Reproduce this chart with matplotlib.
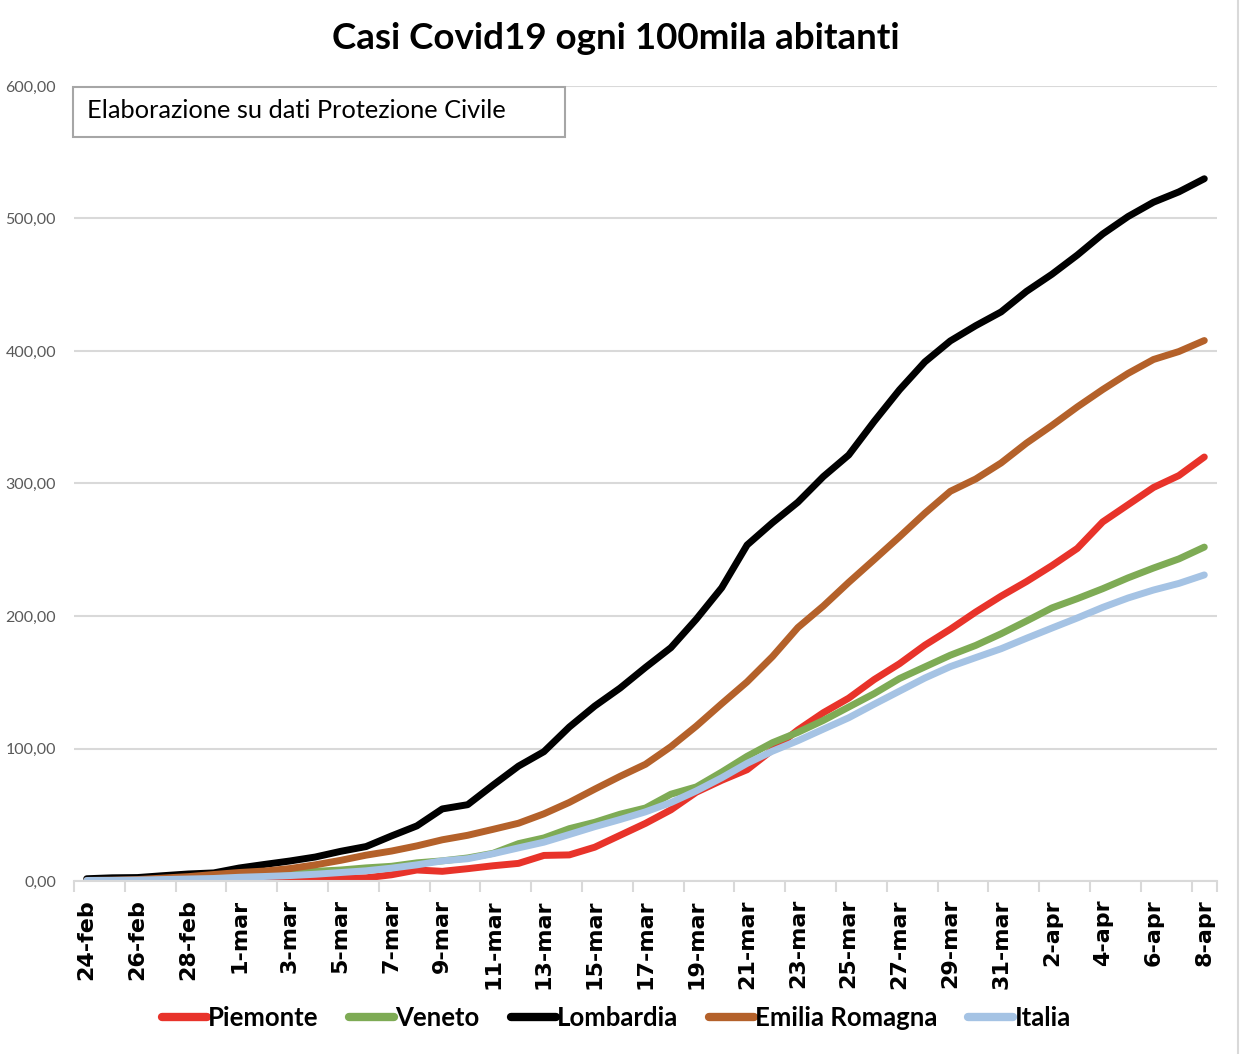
import matplotlib
matplotlib.use('Agg')
import matplotlib.pyplot as plt
from matplotlib.patches import Rectangle
from matplotlib.lines import Line2D

# Casi ogni 100mila abitanti, dal 24-feb all'8-apr 2020
giorni = ['24-feb', '25-feb', '26-feb', '27-feb', '28-feb', '29-feb',
          '1-mar', '2-mar', '3-mar', '4-mar', '5-mar', '6-mar', '7-mar', '8-mar',
          '9-mar', '10-mar', '11-mar', '12-mar', '13-mar', '14-mar', '15-mar',
          '16-mar', '17-mar', '18-mar', '19-mar', '20-mar', '21-mar', '22-mar',
          '23-mar', '24-mar', '25-mar', '26-mar', '27-mar', '28-mar', '29-mar',
          '30-mar', '31-mar', '1-apr', '2-apr', '3-apr', '4-apr', '5-apr',
          '6-apr', '7-apr', '8-apr']

piemonte = [0.0, 0.1, 0.1, 0.1, 0.3, 0.3, 0.3, 0.3, 0.4, 1.0, 1.9, 2.4, 4.7, 8.3,
            7.3, 9.3, 11.5, 13.3, 19.3, 19.7, 25.5, 34.5, 43.5, 53.7, 67.0, 76.0,
            84.0, 99.0, 114.0, 127.0, 138.0, 152.0, 164.0, 178.0, 190.0, 203.0,
            215.0, 226.0, 238.0, 251.0, 271.0, 284.0, 297.0, 306.0, 320.0]

veneto = [0.7, 0.9, 1.4, 2.3, 3.1, 3.9, 5.4, 5.6, 6.3, 7.3, 8.3, 9.9, 11.1, 13.7,
          15.2, 17.4, 20.9, 28.2, 32.5, 39.5, 44.3, 50.4, 55.1, 65.5, 71.0, 82.2,
          94.1, 104.4, 112.2, 121.2, 131.3, 141.4, 152.8, 161.6, 170.4, 177.8,
          186.6, 196.2, 206.1, 213.1, 220.6, 228.8, 236.2, 243.1, 252.0]

lombardia = [1.7, 2.4, 2.6, 4.0, 5.3, 6.1, 9.8, 12.5, 15.1, 18.1, 22.4, 26.0, 34.0,
             41.6, 54.4, 57.6, 72.4, 86.7, 97.6, 116.2, 132.0, 145.6, 161.2, 176.1,
             197.6, 221.3, 253.6, 270.4, 285.9, 305.2, 321.5, 346.8, 370.7, 391.8,
             407.6, 419.1, 429.5, 445.0, 457.9, 472.4, 488.3, 501.5, 512.3, 520.1,
             530.0]

emilia = [0.4, 0.6, 1.1, 2.2, 3.3, 4.9, 6.4, 7.5, 9.4, 12.2, 15.6, 19.5, 22.6, 26.5,
          31.1, 34.5, 39.0, 43.6, 50.7, 59.3, 69.3, 79.0, 88.1, 101.4, 116.9, 133.8,
          150.3, 169.4, 191.3, 207.5, 225.4, 242.5, 259.8, 277.6, 294.1, 303.4,
          315.5, 330.5, 343.8, 357.8, 370.9, 383.1, 393.6, 399.6, 407.9]

italia = [0.4, 0.5, 0.7, 1.1, 1.5, 1.9, 2.8, 3.4, 4.1, 5.1, 6.4, 7.7, 9.7, 12.2,
          15.2, 16.8, 20.6, 25.0, 29.3, 35.1, 41.0, 46.4, 52.2, 59.2, 68.0, 77.9,
          88.8, 98.0, 105.9, 114.6, 123.2, 133.4, 143.3, 153.2, 161.8, 168.6,
          175.3, 183.2, 190.9, 198.5, 206.5, 213.6, 219.6, 224.6, 231.0]

serie = [('Piemonte', piemonte, '#e8332a'),
         ('Veneto', veneto, '#7eab55'),
         ('Lombardia', lombardia, '#000000'),
         ('Emilia Romagna', emilia, '#b4612a'),
         ('Italia', italia, '#a5c3e4')]

fig = plt.figure(figsize=(12.4, 10.54), dpi=100)
ax = fig.add_axes([74 / 1240, 1 - 881 / 1054, 1143 / 1240, 795 / 1054])

x = list(range(len(giorni)))
for nome, valori, colore in serie:
    ax.plot(x, valori, color=colore, lw=5, label=nome,
            solid_capstyle='round', solid_joinstyle='round')

ax.set_xlim(-0.5, len(giorni) - 0.5)
ax.set_ylim(0, 600)

# griglia orizzontale
ax.set_yticks(range(0, 601, 100))
ax.set_yticklabels(['{:.2f}'.format(v).replace('.', ',') for v in range(0, 601, 100)],
                   fontsize=11.5, color='#595959', family='Lato')
ax.yaxis.grid(True, color='#d9d9d9', lw=1.5)
ax.set_axisbelow(True)
ax.tick_params(axis='y', length=0, pad=13)

# etichette ogni due giorni, tacche tra le categorie
ax.set_xticks(x[::2])
ax.set_xticklabels(giorni[::2], rotation=90, fontsize=16, fontweight='bold',
                   va='top', ha='center', family='DejaVu Sans')
ax.set_xticks([v - 0.5 for v in x[::2]] + [len(giorni) - 0.5], minor=True)
ax.tick_params(axis='x', which='major', length=0, pad=13)
ax.tick_params(axis='x', which='minor', length=8, width=1.5, color='#d9d9d9')

for lato in ['top', 'right', 'left']:
    ax.spines[lato].set_visible(False)
ax.spines['bottom'].set_color('#d9d9d9')
ax.spines['bottom'].set_linewidth(1.5)

fig.text(0.497, 0.963, 'Casi Covid19 ogni 100mila abitanti', ha='center', va='center',
         fontsize=26.5, fontweight='bold', family='Lato')

# riquadro con la fonte
fig.patches.append(Rectangle((73 / 1240, 1 - 137 / 1054), 492 / 1240, 50 / 1054,
                             transform=fig.transFigure, facecolor='white',
                             edgecolor='#a6a6a6', lw=1.5, zorder=5))
fig.text(87 / 1240, 1 - 111 / 1054, 'Elaborazione su dati Protezione Civile',
         ha='left', va='center', fontsize=18.3, family='Lato', zorder=6)

fig.lines.append(Line2D([0.9985, 0.9985], [0, 1], transform=fig.transFigure,
                        color='#d9d9d9', lw=1.5))

leg = fig.legend(loc='center', bbox_to_anchor=(0.497, 1 - 1018 / 1054), ncol=5,
                 frameon=False, handlelength=1.75, handletextpad=0.05, columnspacing=1.2,
                 prop={'family': 'Lato', 'weight': 'bold', 'size': 18.5})
for linea in leg.get_lines():
    linea.set_linewidth(6)
    linea.set_solid_capstyle('round')

fig.savefig('out.png', dpi=100, facecolor='white')
